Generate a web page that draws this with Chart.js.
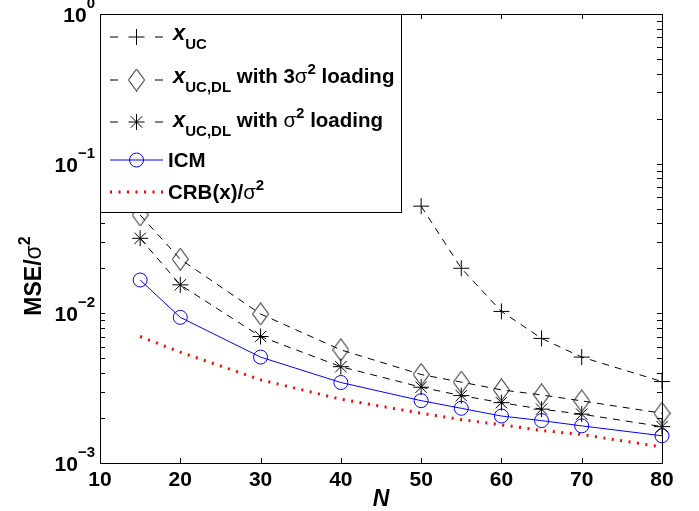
<!DOCTYPE html>
<html>
<head>
<meta charset="utf-8">
<script src="https://cdn.jsdelivr.net/npm/chart.js@4.4.0/dist/chart.umd.min.js"></script>
<style>
  html, body { margin: 0; padding: 0; background: #fff; }
  canvas { display: block; }
</style>
</head>
<body>
<canvas id="MseChart" width="699" height="511"></canvas>
<script>
// values
var nValues = [15, 20, 30, 40, 50, 55, 60, 65, 70, 80];
var mseUC = [null, null, null, null, 0.052, 0.020, 0.0103, 0.0068, 0.0051, 0.0035];
var mseDL3 = [0.0454, 0.0230, 0.0099, 0.0057, 0.0039, 0.00347, 0.00308, 0.00285, 0.0026, 0.00215];
var mseDL1 = [0.0317, 0.0155, 0.0070, 0.0044, 0.00321, 0.00282, 0.00253, 0.00229, 0.00212, 0.00175];
var mseICM = [0.0167, 0.0094, 0.0051, 0.00345, 0.00261, 0.00232, 0.00206, 0.00192, 0.00177, 0.00152];
var crb = [0.0070, 0.0055, 0.0036, 0.00267, 0.00215, 0.00195, 0.0018, 0.00165, 0.00155, 0.00128];
var xTicks = [10, 20, 30, 40, 50, 60, 70, 80];
var yTicks = [1, 0.1, 0.01, 0.001];
var yExponents = ['0', '\u22121', '\u22122', '\u22123'];

var FONT = '"Liberation Sans", Arial, Helvetica, sans-serif';

function toPoints(arr) {
    return nValues.map(function (n, i) { return { x: n, y: arr[i] }; });
}

function diamondImage() {
    var c = document.createElement('canvas');
    c.width = 17; c.height = 23;
    var g = c.getContext('2d');
    g.strokeStyle = '#000';
    g.lineWidth = 1;
    g.beginPath();
    g.moveTo(8.5, 0.5); g.lineTo(16.5, 11.5); g.lineTo(8.5, 22.5); g.lineTo(0.5, 11.5);
    g.closePath();
    g.stroke();
    return c;
}
var diamond = diamondImage();

// draw a run of text pieces (for sub/superscripts), returns end x
function richText(ctx, x, y, parts, measureOnly) {
    parts.forEach(function (p) {
        ctx.font = p.font;
        if (!measureOnly) ctx.fillText(p.t, x, y + (p.dy || 0));
        x += ctx.measureText(p.t).width;
    });
    return x;
}

var B19 = 'bold 20.5px ' + FONT;
var BI20 = 'italic bold 22px ' + FONT;
var B14 = 'bold 15px ' + FONT;
var N19 = '20.5px ' + FONT;

var legendRows = [
    { sy: 37, by: 40, parts: [{ t: 'x', font: BI20 }, { t: 'UC', font: B14, dy: 9 }] },
    { sy: 80, by: 83, parts: [{ t: 'x', font: BI20 }, { t: 'UC,DL', font: B14, dy: 9 }, { t: ' with 3', font: B19 }, { t: '\u03c3', font: N19 }, { t: '2', font: B14, dy: -9 }, { t: ' loading', font: B19 }] },
    { sy: 122, by: 127, parts: [{ t: 'x', font: BI20 }, { t: 'UC,DL', font: B14, dy: 9 }, { t: ' with ', font: B19 }, { t: '\u03c3', font: N19 }, { t: '2', font: B14, dy: -9 }, { t: ' loading', font: B19 }] },
    { sy: 160, by: 167, parts: [{ t: 'ICM', font: B19 }] },
    { sy: 192, by: 199, parts: [{ t: 'CRB(x)/', font: B19 }, { t: '\u03c3', font: N19 }, { t: '2', font: B14, dy: -9 }] }
];

var axesPlugin = {
    id: 'matlabAxes',
    afterDraw: function (chart) {
        var ctx = chart.ctx;
        var a = chart.chartArea;
        var xs = chart.scales.x, ys = chart.scales.y;
        ctx.save();
        ctx.strokeStyle = '#000';
        ctx.lineWidth = 1;
        ctx.strokeRect(Math.round(a.left) + 0.5, Math.round(a.top) + 0.5, Math.round(a.right - a.left), Math.round(a.bottom - a.top));

        var tl = 5;
        ctx.beginPath();
        xTicks.forEach(function (v) {
            var px = Math.round(xs.getPixelForValue(v)) + 0.5;
            ctx.moveTo(px, a.bottom); ctx.lineTo(px, a.bottom - tl);
            ctx.moveTo(px, a.top); ctx.lineTo(px, a.top + tl);
        });
        yTicks.forEach(function (dec) {
            for (var m = 1; m <= 9; m++) {
                var v = dec * m;
                if (v > 1) continue;
                var py = Math.round(ys.getPixelForValue(v)) + 0.5;
                ctx.moveTo(a.left, py); ctx.lineTo(a.left + tl, py);
                ctx.moveTo(a.right, py); ctx.lineTo(a.right - tl, py);
            }
        });
        ctx.stroke();

        // tick labels
        ctx.fillStyle = '#000';
        ctx.textAlign = 'center';
        ctx.textBaseline = 'middle';
        ctx.font = 'bold 21px ' + FONT;
        xTicks.forEach(function (v) {
            ctx.fillText(String(v), xs.getPixelForValue(v), 480);
        });
        ctx.textAlign = 'left';
        ctx.textBaseline = 'alphabetic';
        yTicks.forEach(function (v, i) {
            var py = ys.getPixelForValue(v);
            var parts = [{ t: '10', font: 'bold 21px ' + FONT, dy: 8 }, { t: yExponents[i], font: 'bold 15px ' + FONT, dy: -6 }];
            var w = richText(ctx, 0, 0, parts, true);
            richText(ctx, 95 - w, py, parts);
        });

        // axis titles
        ctx.font = 'italic bold 23px ' + FONT;
        ctx.textAlign = 'center';
        ctx.fillText('N', (a.left + a.right) / 2, 506);

        ctx.save();
        ctx.translate(41, 276);
        ctx.rotate(-Math.PI / 2);
        ctx.textAlign = 'left';
        var yParts = [{ t: 'MSE/', font: 'bold 23px ' + FONT }, { t: '\u03c3', font: '23px ' + FONT }, { t: '2', font: 'bold 16px ' + FONT, dy: -11 }];
        var yw = richText(ctx, 0, 0, yParts, true);
        richText(ctx, -yw / 2, 0, yParts);
        ctx.restore();

        // legend box
        var lx = Math.round(a.left) + 0.5, ly = Math.round(a.top) + 0.5;
        ctx.fillStyle = '#fff';
        ctx.fillRect(lx, ly, 301, 198);
        ctx.strokeRect(lx, ly, 301, 198);
        chart.data.datasets.forEach(function (ds, i) {
            var row = legendRows[i];
            ctx.save();
            ctx.strokeStyle = ds.borderColor;
            ctx.lineWidth = ds.borderWidth;
            ctx.setLineDash(ds.borderDash || []);
            ctx.beginPath();
            if (ds.borderDash && ds.pointRadius > 0) {
                ctx.setLineDash([]);
                ctx.moveTo(110, row.sy); ctx.lineTo(118, row.sy);
                ctx.moveTo(155, row.sy); ctx.lineTo(163, row.sy);
            } else {
                ctx.moveTo(110, row.sy); ctx.lineTo(163, row.sy);
            }
            ctx.stroke();
            ctx.setLineDash([]);
            if (ds.pointRadius > 0) {
                ctx.lineWidth = 1;
                ctx.strokeStyle = ds.pointBorderColor;
                ctx.fillStyle = 'rgba(0,0,0,0)';
                Chart.helpers.drawPoint(ctx, { pointStyle: ds.pointStyle, radius: ds.pointRadius, rotation: 0, borderWidth: 1 }, 136.5, row.sy);
            }
            ctx.restore();
            ctx.fillStyle = '#000';
            ctx.textAlign = 'left';
            ctx.textBaseline = 'alphabetic';
            var tx = row.parts[0].t === 'x' ? 173 : 168;
            richText(ctx, tx, row.by, row.parts);
        });
        ctx.restore();
    }
};

var ctx = document.getElementById('MseChart').getContext('2d');
window.MseChart = new Chart(ctx, {
    type: 'line',
    data: {
        datasets: [{
            label: 'xUC',
            data: toPoints(mseUC),
            borderColor: '#000',
            borderWidth: 1,
            borderDash: [7, 6],
            pointStyle: 'cross',
            pointRadius: 8,
            pointBorderColor: '#000',
            pointBorderWidth: 1,
            spanGaps: false
        }, {
            label: 'xUC,DL with 3s2 loading',
            data: toPoints(mseDL3),
            borderColor: '#000',
            borderWidth: 1,
            borderDash: [7, 6],
            pointStyle: diamond,
            pointRadius: 8,
            pointBorderColor: '#000',
            pointBorderWidth: 1
        }, {
            label: 'xUC,DL with s2 loading',
            data: toPoints(mseDL1),
            borderColor: '#000',
            borderWidth: 1,
            borderDash: [7, 6],
            pointStyle: 'star',
            pointRadius: 8,
            pointBorderColor: '#000',
            pointBorderWidth: 1
        }, {
            label: 'ICM',
            data: toPoints(mseICM),
            borderColor: '#0000ff',
            borderWidth: 1,
            pointStyle: 'circle',
            pointRadius: 7,
            pointBorderColor: '#0000ff',
            pointBackgroundColor: 'rgba(0,0,0,0)',
            pointBorderWidth: 1
        }, {
            label: 'CRB(x)/s2',
            data: toPoints(crb),
            borderColor: '#ff0000',
            borderWidth: 3,
            borderDash: [2, 6.5],
            pointRadius: 0
        }]
    },
    options: {
        responsive: false,
        animation: false,
        devicePixelRatio: 1,
        layout: { padding: { left: 100, right: 37, top: 14, bottom: 48 } },
        elements: { line: { tension: 0, fill: false } },
        datasets: { line: { clip: false } },
        scales: {
            x: { type: 'linear', min: 10, max: 80, display: false },
            y: { type: 'logarithmic', min: 0.001, max: 1, display: false }
        },
        plugins: {
            legend: { display: false },
            tooltip: { enabled: false }
        }
    },
    plugins: [axesPlugin]
});
</script>
</body>
</html>
